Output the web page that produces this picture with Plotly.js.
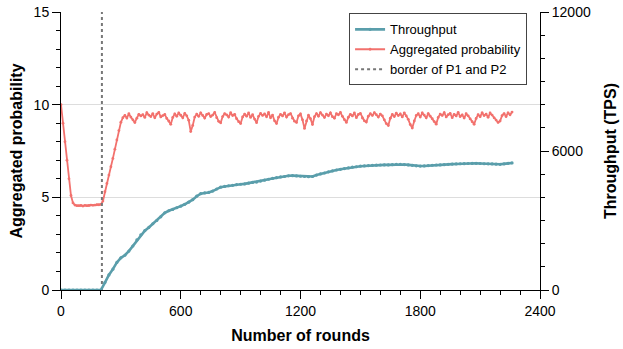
<!DOCTYPE html>
<html>
<head>
<meta charset="utf-8">
<script src="https://cdn.plot.ly/plotly-3.0.1.min.js"></script>
<style>
  html, body { margin: 0; padding: 0; background: #fff; }
  #chart { width: 623px; height: 349px; }
</style>
</head>
<body>
<div id="chart"></div>
<script>
// ---- Data ----
// Aggregated probability, sampled every 10 rounds starting at round 0
const probStep = 10;
const probValues = [
  10.0, 9.0, 8.0, 7.0, 6.0, 5.1, 4.7, 4.58, 4.55, 4.55,
  4.56, 4.53, 4.57, 4.55, 4.56, 4.58, 4.57, 4.58, 4.6, 4.6,
  4.62, 4.8, 5.3, 5.75, 6.2, 6.65, 7.1, 7.6, 8.1, 8.6,
  9.05, 9.3,
  9.42, 9.28, 9.51, 9.33, 9.18, 9.04, 9.27, 9.48, 9.39, 9.46,
  9.31, 9.57, 9.44, 9.36, 9.52, 9.29, 9.49, 9.58, 9.34, 9.41,
  9.47, 9.26, 9.12, 8.94, 9.31, 9.5, 9.38, 9.55, 9.43, 9.29,
  9.53, 9.4, 9.16, 8.55, 8.88, 9.33, 9.49, 9.37, 9.56, 9.42,
  9.28, 9.47, 9.52, 9.36, 9.44, 9.58, 9.3, 9.1, 9.02, 9.36,
  9.51, 9.45, 9.33, 9.57, 9.41, 9.48, 9.24, 9.08, 8.98, 9.34,
  9.49, 9.38, 9.55, 9.31, 9.46, 9.22, 9.03, 9.37, 9.53, 9.42,
  9.5, 9.35, 9.58, 9.29, 9.44, 9.13, 8.98, 9.32, 9.48, 9.39,
  9.56, 9.33, 9.46, 9.52, 9.27, 9.11, 9.04, 9.4, 9.5, 9.18,
  8.72, 9.12, 9.43, 9.24, 8.93, 9.35, 9.52, 9.38, 9.57, 9.44,
  9.31, 9.49, 9.4, 9.56, 9.35, 9.27, 9.51, 9.45, 9.58, 9.37,
  9.19, 9.04, 9.32, 9.48, 9.39, 9.55, 9.3, 9.47, 9.53, 9.28,
  9.13, 9.06, 9.38, 9.51, 9.42, 9.57, 9.46, 9.33, 9.49, 9.4,
  9.18, 8.98, 8.88, 9.27, 9.47, 9.36, 9.54, 9.41, 9.5, 9.34,
  9.56, 9.39, 9.21, 8.93, 8.74, 9.12, 9.42, 9.51, 9.33, 9.55,
  9.44, 9.29, 9.52, 9.38, 9.24, 9.09, 8.95, 9.31, 9.49, 9.42,
  9.57, 9.34, 9.46, 9.53, 9.3, 9.48, 9.39, 9.58, 9.36, 9.45,
  9.28, 9.51, 9.4, 9.23, 9.08, 8.94, 9.26, 9.46, 9.35, 9.56,
  9.41, 9.49, 9.32, 9.55, 9.44, 9.29, 9.17, 9.04, 9.12, 9.41,
  9.52, 9.36, 9.56, 9.45, 9.6
];

// Throughput (TPS), sampled every 20 rounds starting at round 0
const tputStep = 20;
const tputValues = [
  0, 0, 0, 0, 0, 0, 0, 0, 0, 0,
  0, 320, 650, 900, 1190, 1390, 1500, 1680, 1900, 2160,
  2380, 2560, 2700, 2860, 3000, 3160, 3330, 3420, 3480, 3550,
  3620, 3700, 3790, 3900, 4050, 4160, 4190, 4210, 4270, 4360,
  4440, 4470, 4500, 4520, 4550, 4565, 4580, 4610, 4645, 4660,
  4700, 4740, 4780, 4815, 4850, 4880, 4900, 4930, 4935, 4925,
  4910, 4900, 4890, 4900, 4960, 5010, 5050, 5100, 5140, 5180,
  5210, 5240, 5270, 5300, 5320, 5345, 5355, 5370, 5380, 5390,
  5395, 5400, 5400, 5410, 5420, 5425, 5415, 5400, 5380, 5360,
  5350, 5355, 5370, 5385, 5395, 5400, 5410, 5425, 5435, 5440,
  5450, 5455, 5460, 5465, 5470, 5460, 5450, 5445, 5440, 5430,
  5425, 5445, 5470, 5485
];

// Border between phase P1 and P2 (round)
const borderRound = [205, 205];
const borderSpan = [0, 15];

const seriesNames = ['Throughput', 'Aggregated probability', 'border of P1 and P2'];
const xTitle = 'Number of rounds';
const yTitle = 'Aggregated probability';
const y2Title = 'Throughput (TPS)';

// ---- Build traces ----
const probRounds = probValues.map((_, i) => i * probStep);
const tputRounds = tputValues.map((_, i) => i * tputStep);

const teal = '#5a9eab';
const red = '#f2716d';

const traces = [
  {
    x: tputRounds, y: tputValues, name: seriesNames[0], yaxis: 'y2',
    type: 'scatter', mode: 'lines+markers',
    line: { color: teal, width: 2.6 },
    marker: { color: teal, size: 3.2 }
  },
  {
    x: probRounds, y: probValues, name: seriesNames[1], yaxis: 'y',
    type: 'scatter', mode: 'lines+markers',
    line: { color: red, width: 1.8 },
    marker: { color: red, size: 2.8 }
  },
  {
    x: borderRound, y: borderSpan, name: seriesNames[2], yaxis: 'y',
    type: 'scatter', mode: 'lines',
    line: { color: '#777', width: 2, dash: 'dot' }
  }
];

const fontFam = 'Liberation Sans, Arial, Helvetica, sans-serif';

const layout = {
  width: 623, height: 349,
  margin: { l: 61, r: 83, t: 12, b: 59 },
  paper_bgcolor: '#fff', plot_bgcolor: '#fff',
  font: { family: fontFam, color: '#000', size: 14 },
  showlegend: true,
  legend: {
    x: 0.973, xanchor: 'right', y: 0.995, yanchor: 'top',
    bgcolor: '#fff', bordercolor: '#444', borderwidth: 1,
    font: { family: fontFam, size: 13, color: '#000' },
    itemwidth: 30, tracegroupgap: 0
  },
  xaxis: {
    range: [0, 2400], dtick: 600, tick0: 0,
    showline: true, linecolor: '#000', linewidth: 1,
    ticks: 'outside', ticklen: 8, tickcolor: '#000',
    showgrid: false, zeroline: false,
    minor: { dtick: 100, tick0: 0, ticks: 'outside', ticklen: 4, tickcolor: '#000', showgrid: false },
    tickfont: { size: 14 },
    title: { text: '<b>' + xTitle + '</b>', font: { size: 16 }, standoff: 12 }
  },
  yaxis: {
    range: [0, 15], dtick: 5, tick0: 0,
    showline: true, linecolor: '#000', linewidth: 1,
    ticks: 'outside', ticklen: 8, tickcolor: '#000',
    showgrid: true, gridcolor: '#dddddd', gridwidth: 1, zeroline: false,
    minor: { dtick: 1, tick0: 0, ticks: 'outside', ticklen: 4, tickcolor: '#000', showgrid: false },
    tickfont: { size: 14 },
    title: { text: '<b>' + yTitle + '</b>', font: { size: 16 }, standoff: 7 }
  },
  yaxis2: {
    overlaying: 'y', side: 'right',
    range: [0, 12000], dtick: 6000, tick0: 0, tickformat: 'd',
    showline: true, linecolor: '#000', linewidth: 1,
    ticks: 'outside', ticklen: 8, tickcolor: '#000',
    showgrid: false, zeroline: false,
    minor: { dtick: 1000, tick0: 0, ticks: 'outside', ticklen: 4, tickcolor: '#000', showgrid: false },
    tickfont: { size: 14 },
    title: { text: '<b>' + y2Title + '</b>', font: { size: 16 }, standoff: 14 }
  }
};

Plotly.newPlot('chart', traces, layout, { displayModeBar: false, staticPlot: true });
</script>
</body>
</html>
